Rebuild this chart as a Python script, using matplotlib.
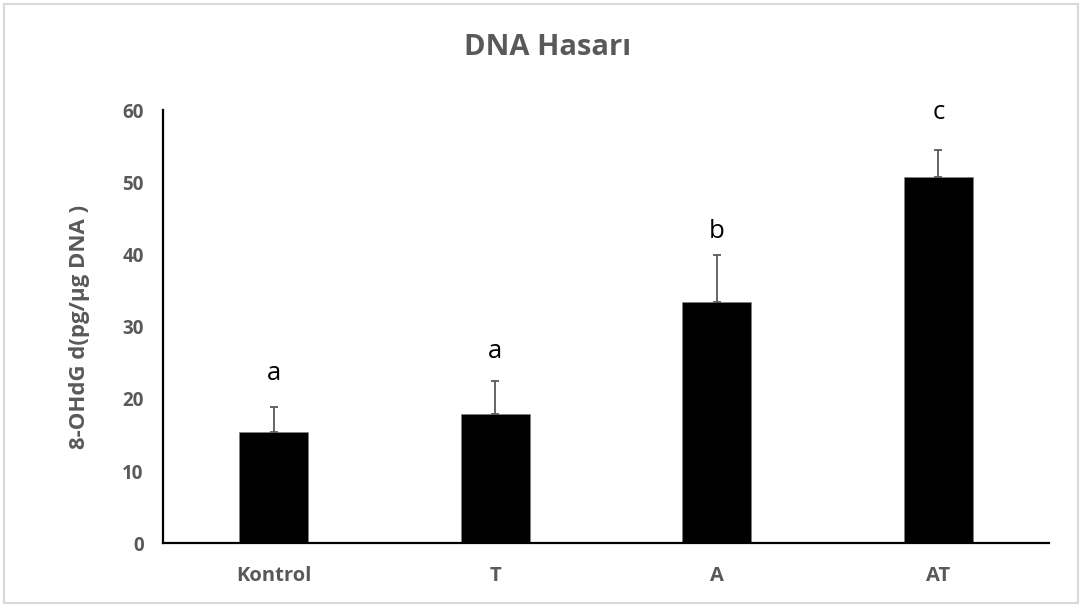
import matplotlib.pyplot as plt
from matplotlib.patches import Rectangle

# ── Data ──────────────────────────────────────────────────────────────────────
GROUPS   = ['Kontrol', 'T', 'A', 'AT']
MEANS    = [15.4, 17.9, 33.4, 50.8]
SD       = [3.5, 4.6, 6.6, 3.7]
LETTERS  = ['a', 'a', 'b', 'c']
LETTER_Y = [22.6, 25.6, 42.3, 58.7]   # baseline of the significance letters

TEXT_GRAY = '#595959'
plt.rcParams['font.family'] = ['Open Sans', 'DejaVu Sans']

# ── Figure ────────────────────────────────────────────────────────────────────
fig = plt.figure(figsize=(10.8, 6.05), dpi=100)
ax = fig.add_axes([0.1509, 0.102, 0.8204, 0.716])

x = range(len(GROUPS))
ax.bar(x, MEANS, width=0.31, color='black', edgecolor='#7f7f7f', linewidth=0.4,
       zorder=2)
ax.errorbar(x, MEANS, yerr=[[0] * len(SD), SD], fmt='none', ecolor=TEXT_GRAY,
            elinewidth=1.3, capsize=3, capthick=1.3, zorder=1)

for xi, letter, ly in zip(x, LETTERS, LETTER_Y):
    ax.text(xi, ly, letter, ha='center', va='baseline', fontsize=18.5,
            color='black')

ax.set_xlim(-0.5, len(GROUPS) - 0.5)
ax.set_ylim(0, 60)
ax.set_yticks(range(0, 61, 10))
ax.set_xticks(list(x))
ax.set_xticklabels(GROUPS, fontsize=14.5, fontweight='bold', color=TEXT_GRAY)
for lbl in ax.get_yticklabels():
    lbl.set_fontsize(13.5)
    lbl.set_fontweight('bold')
    lbl.set_color(TEXT_GRAY)
ax.tick_params(axis='both', length=0)
ax.tick_params(axis='y', pad=14)
ax.tick_params(axis='x', pad=16)

ax.spines['top'].set_visible(False)
ax.spines['right'].set_visible(False)
ax.spines['left'].set_linewidth(1.6)
ax.spines['bottom'].set_linewidth(1.6)

ax.set_ylabel('8-OHdG d(pg/µg DNA )', fontsize=16, fontweight='bold',
              color=TEXT_GRAY, labelpad=23)

fig.text(0.507, 0.922, 'DNA Hasarı', ha='center', va='center', fontsize=21,
         fontweight='bold', color=TEXT_GRAY)

# light chart border
fig.patches.append(Rectangle((0.004, 0.003), 0.994, 0.991, transform=fig.transFigure,
                             fill=False, edgecolor='#d9d9d9', linewidth=1.5))

fig.savefig('out.png', dpi=100)
